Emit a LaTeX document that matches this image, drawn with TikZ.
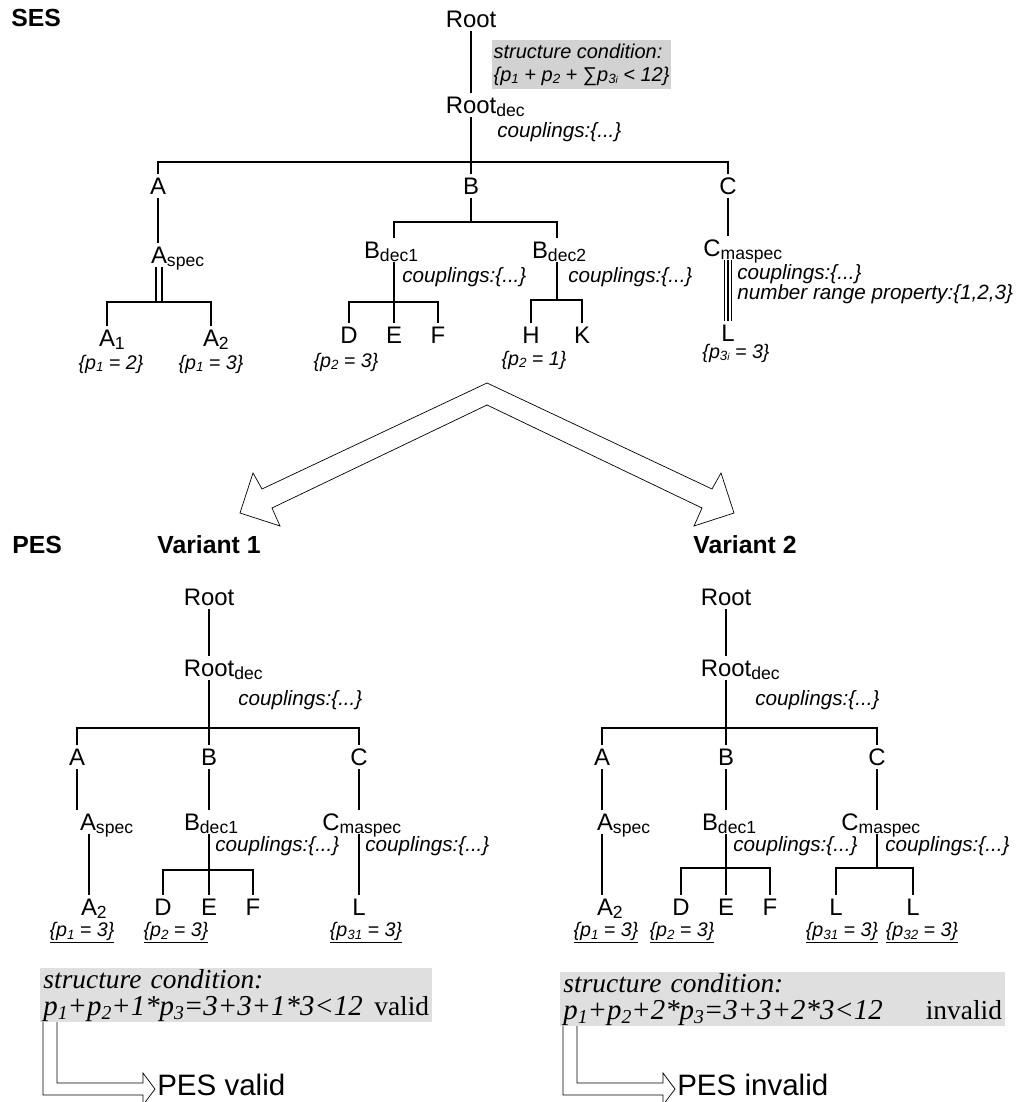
\documentclass[tikz,border=0pt]{standalone}
\usepackage{fontspec}
\setmainfont{Liberation Sans}
\newfontfamily\timesfont{Liberation Serif}

\newcommand{\lsub}[1]{\raisebox{-2pt}{\fontsize{12.5}{12.5}\selectfont #1}}
\newcommand{\nsub}[1]{\raisebox{-2.5pt}{\fontsize{12.5}{12.5}\selectfont #1}}
\newcommand{\isub}[1]{\raisebox{-2pt}{\fontsize{9.5}{9.5}\selectfont #1}}
\newcommand{\tsub}[1]{\raisebox{-3pt}{\fontsize{14}{14}\selectfont #1}}
\newcommand{\tinyi}{{\fontsize{7}{7}\selectfont i}}
\newcommand{\fml}{\fontsize{20.5}{19.5}\selectfont}

\begin{document}
\begin{tikzpicture}[x=0.025cm, y=-0.025cm,
		lbl/.style={font=\fontsize{17}{17}\selectfont, inner sep=2.5pt, text height=12pt, text depth=0pt},
		note/.style={font=\fontsize{14.7}{15}\selectfont\itshape, anchor=west, inner sep=0pt},
		leaf/.style={font=\fontsize{14}{14}\selectfont\itshape, inner sep=0pt},
		sectitle/.style={font=\fontsize{17.6}{18}\selectfont\bfseries, inner sep=0pt},
		sescond/.style={fill=gray!35, anchor=north west, align=left,
			font=\fontsize{14.2}{16.3}\selectfont\itshape, inner xsep=1pt, inner ysep=2.5pt},
		cond/.style={fill=gray!25, anchor=north west, align=left,
			font=\timesfont\itshape\fontsize{19.5}{19.5}\selectfont, inner xsep=0.08cm, inner ysep=0.5pt},
		result/.style={font=\fontsize{21}{21}\selectfont, anchor=west, inner sep=0pt},
		link/.style={line width=0.9pt},
		hollow/.style={line width=0.5pt, fill=white},
	]
	\clip (0,0) rectangle (1016,1102);
	
	%% ── SES ───────────────────────────────────────────────
	\node[sectitle, anchor=west] (ses) at (11,18) {SES};
	\node[lbl] (root) at (471,19) {Root};
	\node[sescond] (cond) at (492,40) {structure condition:\\\{p\isub{1} + p\isub{2} + {\upshape ∑}p\isub{3\tinyi} < 12\}};
	\node[lbl] (rdec) at (471,105) {Root\rlap{\lsub{dec}}};
	\node[note] (rdecc) at (497,132) {couplings:\{...\}};
	
	\node[lbl] (a) at (158,186) {A};
	\node[lbl] (b) at (471,186) {B};
	\node[lbl] (c) at (728,186) {C};
	
	\node[lbl] (aspec) at (159,255) {A\rlap{\lsub{spec}}};
	\node[lbl] (a1) at (107,338) {A\rlap{\nsub{1}}};
	\node[lbl] (a2) at (211,338) {A\rlap{\nsub{2}}};
	\node[leaf] (pa1) at (111,364) {\{p\isub{1} = 2\}};
	\node[leaf] (pa2) at (211,364) {\{p\isub{1} = 3\}};
	
	\node[lbl] (bdec1) at (372,250) {B\rlap{\lsub{dec1}}};
	\node[lbl] (bdec2) at (540,250) {B\rlap{\lsub{dec2}}};
	\node[note] (bdec1c) at (402,277) {couplings:\{...\}};
	\node[note] (bdec2c) at (568,277) {couplings:\{...\}};
	\node[lbl] (d) at (349,335) {D};
	\node[lbl] (e) at (394,335) {E};
	\node[lbl] (f) at (438,335) {F};
	\node[lbl] (h) at (531,335) {H};
	\node[lbl] (k) at (582,335) {K};
	\node[leaf] (pd) at (346,362) {\{p\isub{2} = 3\}};
	\node[leaf] (ph) at (534,360) {\{p\isub{2} = 1\}};
	
	\node[lbl] (cmaspec) at (712,248) {C\rlap{\lsub{maspec}}};
	\node[note] (cmaspecc) at (737,274) {couplings:\{...\}};
	\node[note] (cmaspecn) at (737,294) {number range property:\{1,2,3\}};
	\node[lbl] (l) at (728,333) {L};
	\node[leaf] (pl) at (736,353) {\{p\isub{3\tinyi} = 3\}};
	
	\coordinate (sbar) at (471,162);
	\coordinate (abar) at (159,302);
	\coordinate (xb1) at (394,222);
	\coordinate (xb2) at (557,222);
	\coordinate (dbar) at (394,302);
	\coordinate (hbar) at (557,300);
	
	\draw[link] (root) -- (rdec);
	\draw[link] (rdec) -- (b);
	\draw[link] (a.north) |- (sbar) -| (c.north);
	\draw[link] (a) -- (a |- aspec.north);
	\draw[link, double, double distance=0.118cm] (aspec) -- (abar);
	\draw[link] (a1.north) |- (abar) -| (a2.north);
	\draw[link] (b) -- (b |- xb1);
	\draw[link] (xb1 |- bdec1.north) -- (xb1) -- (xb2) -- (xb2 |- bdec2.north);
	\draw[link] (xb1 |- bdec1.south) -- (e);
	\draw[link] (d.north) |- (dbar) -| (f.north);
	\draw[link] (xb2 |- bdec2.south) -- (hbar);
	\draw[link] (h.north) |- (hbar) -| (k.north);
	\draw[link] (c) -- (c |- cmaspec.north);
	\draw[link, double, double distance=0.144cm] (l |- cmaspec.south) -- (l);
	\draw[link] (l |- cmaspec.south) -- (l);
	
	%% ── SES -> variants ───────────────────────────────────
	\draw[hollow] (262,489) -- (487,383) -- (712,489) -- (721,473) -- (734,513) -- (694,526)
		-- (702,508) -- (487,405) -- (272,508) -- (280,526) -- (240,513) -- (253,473) -- cycle;
	
	%% ── PES, variant 1 ────────────────────────────────────
	\node[sectitle, anchor=west] (pes) at (12,545) {PES};
	\node[sectitle] (var1) at (209,545) {Variant 1};
	\node[lbl] (root1) at (209,597) {Root};
	\node[lbl] (rdec1) at (209,668) {Root\rlap{\lsub{dec}}};
	\node[note] (rdec1c) at (238,700) {couplings:\{...\}};
	\node[lbl] (a1v) at (77,757) {A};
	\node[lbl] (b1v) at (209,757) {B};
	\node[lbl] (c1v) at (359,757) {C};
	\node[lbl] (aspec1) at (88,822) {A\rlap{\lsub{spec}}};
	\node[lbl] (bdec11) at (192,822) {B\rlap{\lsub{dec1}}};
	\node[lbl] (cmaspec1) at (331,822) {C\rlap{\lsub{maspec}}};
	\node[note] (bdec11c) at (215,846) {couplings:\{...\}};
	\node[note] (cmaspec1c) at (365,846) {couplings:\{...\}};
	\node[lbl] (a21) at (89,907) {A\rlap{\nsub{2}}};
	\node[lbl] (d1) at (163,907) {D};
	\node[lbl] (e1) at (209,907) {E};
	\node[lbl] (f1) at (253,907) {F};
	\node[lbl] (l1) at (359,907) {L};
	\node[leaf] (pa21) at (82,933) {\underline{\{p\isub{1} = 3\}}};
	\node[leaf] (pd1) at (176,933) {\underline{\{p\isub{2} = 3\}}};
	\node[leaf] (pl1) at (366,933) {\underline{\{p\isub{31} = 3\}}};
	
	\coordinate (bar1) at (209,728);
	\coordinate (dbar1) at (209,870);
	\draw[link] (root1) -- (rdec1);
	\draw[link] (rdec1) -- (b1v);
	\draw[link] (a1v.north) |- (bar1) -| (c1v.north);
	\draw[link] (a1v) -- (a1v |- aspec1.north);
	\draw[link] (a21 |- aspec1.south) -- (a21);
	\draw[link] (b1v) -- (b1v |- bdec11.north);
	\draw[link] (e1 |- bdec11.south) -- (e1);
	\draw[link] (d1.north) |- (dbar1) -| (f1.north);
	\draw[link] (c1v) -- (c1v |- cmaspec1.north);
	\draw[link] (l1 |- cmaspec1.south) -- (l1);
	
	%% ── PES, variant 2 ────────────────────────────────────
	\node[sectitle] (var2) at (745,545) {Variant 2};
	\node[lbl] (root2) at (726,597) {Root};
	\node[lbl] (rdec2) at (726,668) {Root\rlap{\lsub{dec}}};
	\node[note] (rdec2c) at (755,700) {couplings:\{...\}};
	\node[lbl] (a2v) at (602,757) {A};
	\node[lbl] (b2v) at (726,757) {B};
	\node[lbl] (c2v) at (877,757) {C};
	\node[lbl] (aspec2) at (605,822) {A\rlap{\lsub{spec}}};
	\node[lbl] (bdec12) at (710,822) {B\rlap{\lsub{dec1}}};
	\node[lbl] (cmaspec2) at (850,822) {C\rlap{\lsub{maspec}}};
	\node[note] (bdec12c) at (733,846) {couplings:\{...\}};
	\node[note] (cmaspec2c) at (885,846) {couplings:\{...\}};
	\node[lbl] (a22) at (605,907) {A\rlap{\nsub{2}}};
	\node[lbl] (d2) at (681,907) {D};
	\node[lbl] (e2) at (726,907) {E};
	\node[lbl] (f2) at (770,907) {F};
	\node[lbl] (l21) at (836,907) {L};
	\node[lbl] (l22) at (913,907) {L};
	\node[leaf] (pa22) at (606,933) {\underline{\{p\isub{1} = 3\}}};
	\node[leaf] (pd2) at (682,933) {\underline{\{p\isub{2} = 3\}}};
	\node[leaf] (pl21) at (842,933) {\underline{\{p\isub{31} = 3\}}};
	\node[leaf] (pl22) at (922,933) {\underline{\{p\isub{32} = 3\}}};
	
	\coordinate (bar2) at (726,728);
	\coordinate (dbar2) at (726,868);
	\coordinate (lbar2) at (877,868);
	\draw[link] (root2) -- (rdec2);
	\draw[link] (rdec2) -- (b2v);
	\draw[link] (a2v.north) |- (bar2) -| (c2v.north);
	\draw[link] (a2v) -- (a2v |- aspec2.north);
	\draw[link] (a2v |- aspec2.south) -- (a2v |- a22.north);
	\draw[link] (b2v) -- (b2v |- bdec12.north);
	\draw[link] (e2 |- bdec12.south) -- (e2);
	\draw[link] (d2.north) |- (dbar2) -| (f2.north);
	\draw[link] (c2v) -- (c2v |- cmaspec2.north);
	\draw[link] (lbar2 |- cmaspec2.south) -- (lbar2);
	\draw[link] (l21.north) |- (lbar2) -| (l22.north);
	
	%% ── structure conditions ──────────────────────────────
	\node[cond, text width=9.64cm] (sc1) at (40,968)
		{structure condition:\\{\fml p\tsub{1}+p\tsub{2}+1*p\tsub{3}=3+3+1*3<12}\hfill{\upshape valid}};
	\node[cond, text width=10.96cm] (sc2) at (560,972)
		{structure condition:\\{\fml p\tsub{1}+p\tsub{2}+2*p\tsub{3}=3+3+2*3<12}\hfill{\upshape invalid}};
	
	\draw[hollow] (57,1022) -- (57,1083) -- (143,1083) -- (143,1073) -- (155,1089)
		-- (143,1105) -- (143,1095) -- (43,1095) -- (43,1022);
	\node[result] (ok1) at (157,1085) {PES valid};
	\draw[hollow] (577,1026) -- (577,1083) -- (663,1083) -- (663,1073) -- (675,1089)
		-- (663,1105) -- (663,1095) -- (563,1095) -- (563,1026);
	\node[result] (ok2) at (677,1085) {PES invalid};
\end{tikzpicture}
\end{document}
